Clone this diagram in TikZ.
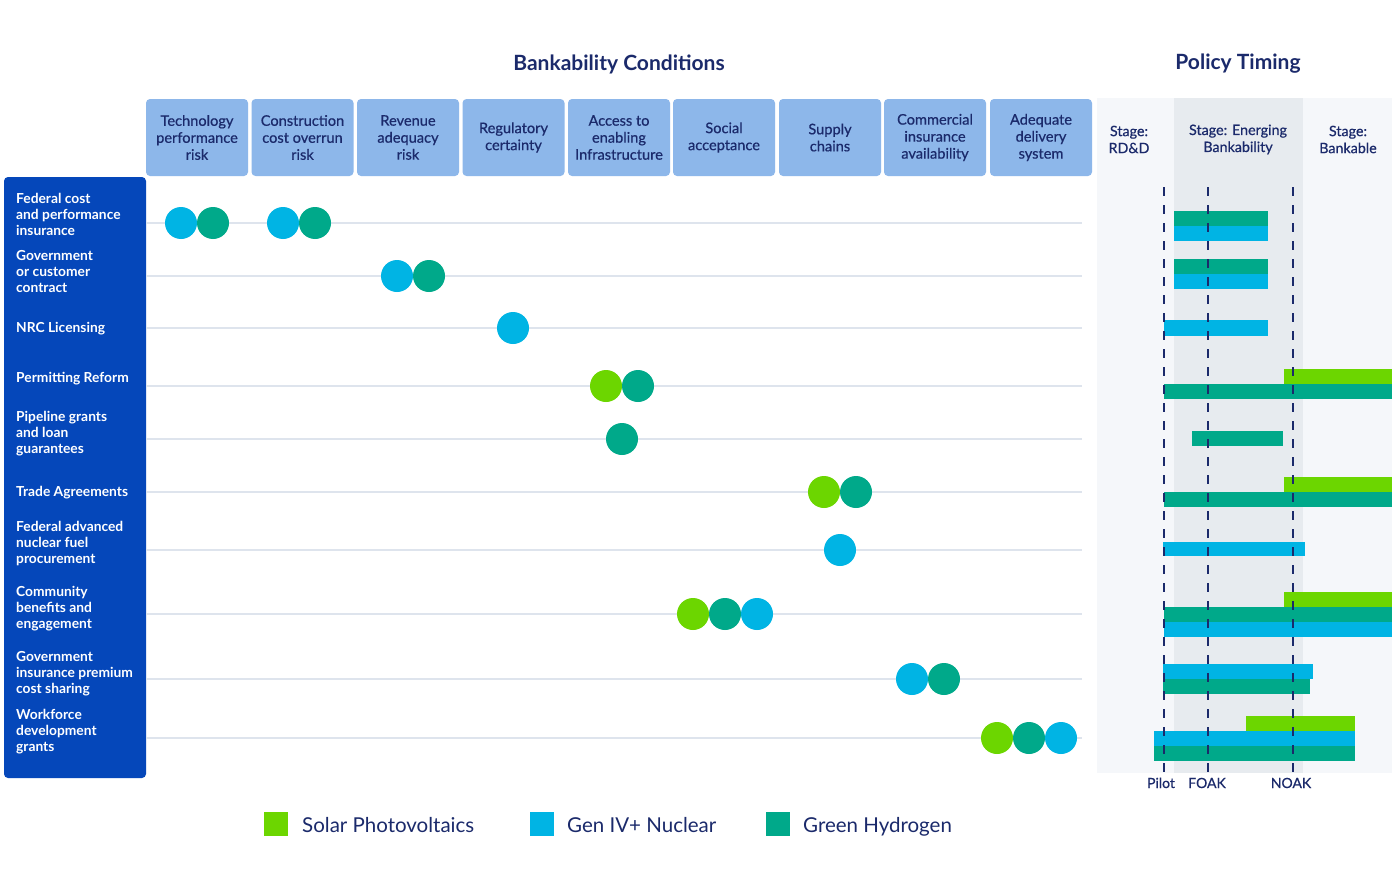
\documentclass[tikz,border=0pt]{standalone}
\usepackage{fontspec}
\setmainfont{Lato}
\newfontfamily\medfont[FakeBold=0.6]{Lato}
\definecolor{navy}{RGB}{27,42,107}
\definecolor{hdrblue}{RGB}{141,183,234}
\definecolor{colblue}{RGB}{5,71,186}
\definecolor{panelbg}{RGB}{245,247,250}
\definecolor{bandbg}{RGB}{231,235,239}
\definecolor{gridc}{RGB}{222,228,237}
\definecolor{cgreen}{RGB}{108,214,0}
\definecolor{cblue}{RGB}{0,180,228}
\definecolor{cteal}{RGB}{0,169,138}
\tikzset{
  hbox/.style={fill=hdrblue, rounded corners=4pt, minimum width=102pt, minimum height=77pt, inner sep=0pt, align=center, text=navy, font=\medfont\fontsize{14.6}{17}\selectfont},
  rowlab/.style={anchor=west, align=left, text=white, inner sep=0pt, font=\bfseries\fontsize{13.8}{16}\selectfont},
  stagelab/.style={align=center, text=navy, inner sep=0pt, font=\medfont\fontsize{14.3}{17}\selectfont},
  title/.style={text=navy, inner sep=0pt, font=\bfseries\fontsize{21}{24}\selectfont},
  dot/.style={circle, minimum size=32pt, inner sep=0pt},
  gdot/.style={dot, fill=cgreen},
  bdot/.style={dot, fill=cblue},
  tdot/.style={dot, fill=cteal},
  gridline/.style={draw=gridc, line width=1.2pt},
  stageline/.style={draw=navy, line width=1.4pt, dash pattern=on 9pt off 9pt},
  ticklab/.style={text=navy, inner sep=0pt, anchor=base, font=\medfont\fontsize{14}{16}\selectfont},
  legsq/.style={minimum width=24pt, minimum height=24pt, inner sep=0pt},
  legtxt/.style={anchor=base west, text=navy, inner sep=0pt, font=\fontsize{20.5}{24}\selectfont},
}
\begin{document}
\begin{tikzpicture}[x=1pt,y=-1pt]
\useasboundingbox (0,0) rectangle (1400,875);
\fill[white] (0,0) rectangle (1400,875);
% titles
\node[title] (t1) at (619,64) {Bankability Conditions};
\node[title] (t2) at (1238,64) {Policy Timing};
% header boxes
\node[hbox] (h1) at (197,137.5) {Technology\\performance\\risk};
\node[hbox] (h2) at (302.5,137.5) {Construction\\cost overrun\\risk};
\node[hbox] (h3) at (408,137.5) {Revenue\\adequacy\\risk};
\node[hbox] (h4) at (513.5,137.5) {Regulatory\\certainty};
\node[hbox] (h5) at (619,137.5) {Access to\\enabling\\Infrastructure};
\node[hbox] (h6) at (724,137.5) {Social\\acceptance};
\node[hbox] (h7) at (830,137.5) {Supply\\chains};
\node[hbox] (h8) at (935,137.5) {Commercial\\insurance\\availability};
\node[hbox] (h9) at (1041,137.5) {Adequate\\delivery\\system};
% left column
\fill[colblue, rounded corners=4pt] (4,177) rectangle (146,778);
% grid lines
\foreach \y in {223,276,328,386,439,492,550,614,679,738}
  \draw[gridline] (146,\y) -- (1082,\y);
% row labels
\node[rowlab] (r1) at (16,214.5) {Federal cost\\and performance\\insurance};
\node[rowlab] (r2) at (16,271.5) {Government\\or customer\\contract};
\node[rowlab] (r3) at (16,328.5) {NRC Licensing};
\node[rowlab] (r4) at (16,378.5) {Permitting Reform};
\node[rowlab] (r5) at (16,433.5) {Pipeline grants\\and loan\\guarantees};
\node[rowlab] (r6) at (16,492.5) {Trade Agreements};
\node[rowlab] (r7) at (16,543.5) {Federal advanced\\nuclear fuel\\procurement};
\node[rowlab] (r8) at (16,608.5) {Community\\benefits and\\engagement};
\node[rowlab] (r9) at (16,673.5) {Government\\insurance premium\\cost sharing};
\node[rowlab] (r10) at (16,731.5) {Workforce\\development\\grants};
% dots
\node[bdot] (d1a) at (181,223) {};
\node[tdot] (d1b) at (213,223) {};
\node[bdot] (d1c) at (283,223) {};
\node[tdot] (d1d) at (315,223) {};
\node[bdot] (d2a) at (397,276) {};
\node[tdot] (d2b) at (429,276) {};
\node[bdot] (d3a) at (513,328) {};
\node[gdot] (d4a) at (606,386) {};
\node[tdot] (d4b) at (638,386) {};
\node[tdot] (d5a) at (622,439) {};
\node[gdot] (d6a) at (824,492) {};
\node[tdot] (d6b) at (856,492) {};
\node[bdot] (d7a) at (840,550) {};
\node[gdot] (d8a) at (693,614) {};
\node[tdot] (d8b) at (725,614) {};
\node[bdot] (d8c) at (757,614) {};
\node[bdot] (d9a) at (912,679) {};
\node[tdot] (d9b) at (944,679) {};
\node[gdot] (d10a) at (997,738) {};
\node[tdot] (d10b) at (1029,738) {};
\node[bdot] (d10c) at (1061,738) {};
% policy timing panel
\fill[panelbg] (1097,98) rectangle (1392,773);
\fill[bandbg] (1174,98) rectangle (1303,773);
\node[stagelab] (s1) at (1129,139.5) {Stage:\\RD\&D};
\node[stagelab] (s2) at (1238,139.5) {Stage: Energing\\Bankability};
\node[stagelab] (s3) at (1348,139.5) {Stage:\\Bankable};
% bars
\fill[cteal] (1174,211) rectangle (1268,226);
\fill[cblue] (1174,226) rectangle (1268,241);
\fill[cteal] (1174,259) rectangle (1268,274);
\fill[cblue] (1174,274) rectangle (1268,289);
\fill[cblue] (1164,320) rectangle (1268,336);
\fill[cgreen] (1284,369) rectangle (1392,384);
\fill[cteal] (1164,384) rectangle (1392,399);
\fill[cteal] (1192,431) rectangle (1283,446);
\fill[cgreen] (1284,477) rectangle (1392,492);
\fill[cteal] (1164,492) rectangle (1392,507);
\fill[cblue] (1163,542) rectangle (1305,556);
\fill[cgreen] (1284,592) rectangle (1392,607);
\fill[cteal] (1164,607) rectangle (1392,622);
\fill[cblue] (1164,622) rectangle (1392,637);
\fill[cblue] (1163,664) rectangle (1313,679);
\fill[cteal] (1163,679) rectangle (1310,694);
\fill[cgreen] (1246,716) rectangle (1355,731);
\fill[cblue] (1154,731) rectangle (1355,746);
\fill[cteal] (1154,746) rectangle (1355,761);
% stage lines
\coordinate (p1) at (1164,187); \coordinate (p2) at (1164,772);
\coordinate (f1) at (1208,187); \coordinate (f2) at (1208,772);
\coordinate (n1) at (1293,187); \coordinate (n2) at (1293,772);
\draw[stageline] (p1) -- (p2);
\draw[stageline] (f1) -- (f2);
\draw[stageline] (n1) -- (n2);
\node[ticklab] (lp) at (1161,788) {Pilot};
\node[ticklab] (lf) at (1207,788) {FOAK};
\node[ticklab] (ln) at (1291,788) {NOAK};
% legend
\node[legsq, fill=cgreen] (lg1) at (276,824) {};
\node[legtxt] (lt1) at (302,832) {Solar Photovoltaics};
\node[legsq, fill=cblue] (lg2) at (542,824) {};
\node[legtxt] (lt2) at (567,832) {Gen IV+ Nuclear};
\node[legsq, fill=cteal] (lg3) at (778,824) {};
\node[legtxt] (lt3) at (803,832) {Green Hydrogen};
\end{tikzpicture}
\end{document}
